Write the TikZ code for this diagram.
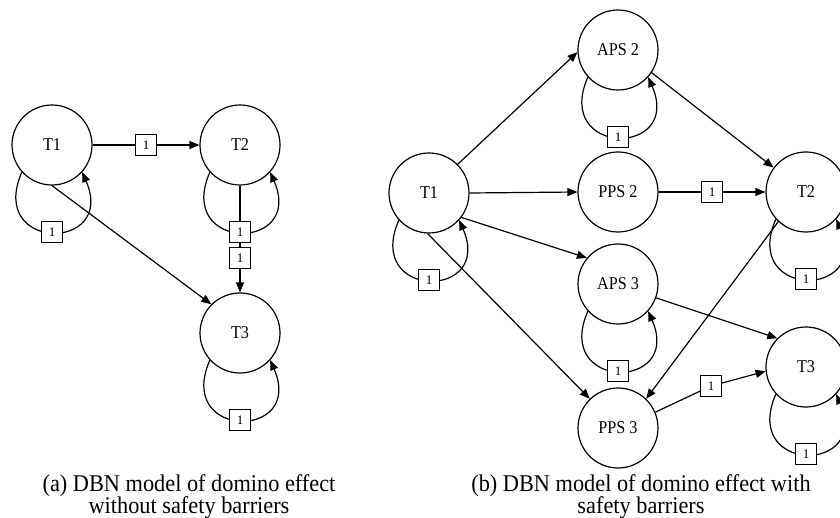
\documentclass[tikz,border=0pt]{standalone}
\usepackage{fontspec}
\setmainfont{Liberation Serif}
\newfontfamily\capfont[FakeStretch=0.93]{Liberation Serif}
\newfontfamily\lblfont[FakeStretch=0.9]{Liberation Serif}
\usetikzlibrary{arrows.meta}

% self-loop of a time-slice node, with its lag box
\newcommand\dbnloop[1]{%
  \draw[dbnarc] (#1.222) .. controls +(-35,80) and +(35,80) .. (#1.318)
    node[lagbox,pos=.5] (#1lag) {1};}

\begin{document}
\begin{tikzpicture}[x=1pt,y=-1pt,
  dbnstate/.style={circle,draw,fill=white,line width=1.2pt,minimum size=80pt,
    inner sep=0pt,font=\lblfont\fontsize{18}{20}\selectfont},
  lagbox/.style={rectangle,draw,fill=white,line width=1.2pt,minimum size=21pt,
    inner sep=0pt,font=\fontsize{13}{14}\selectfont},
  dbnarc/.style={line width=1.2pt,-{Triangle[length=10pt,width=8pt]}},
  captext/.style={font=\capfont\fontsize{24}{26}\selectfont,anchor=base,inner sep=0pt}]
\clip (0,0) rectangle (840,518);

% ---- (a) without safety barriers ----
\node[dbnstate] (T1a) at (52,145) {T1};
\node[dbnstate] (T2a) at (240,145) {T2};
\node[dbnstate] (T3a) at (240,333) {T3};

\draw[dbnarc] (T1a.east) -- node[lagbox] (e12) {1} (T2a.west);
\draw[dbnarc] (T2a.south) -- node[lagbox,pos=.676] (e23) {1} (T3a.north);
\draw[dbnarc] (T1a.south) -- (T3a.135);

\dbnloop{T1a}
\dbnloop{T2a}
\dbnloop{T3a}

% ---- (b) with safety barriers ----
\node[dbnstate] (T1b) at (429,193) {T1};
\node[dbnstate] (APS2) at (618,50) {APS 2};
\node[dbnstate] (PPS2) at (618,192) {PPS 2};
\node[dbnstate] (APS3) at (618,284) {APS 3};
\node[dbnstate] (PPS3) at (618,428) {PPS 3};
\node[dbnstate] (T2b) at (806,192) {T2};
\node[dbnstate] (T3b) at (806,367) {T3};

\draw[dbnarc] (T1b.45) -- (APS2.183);
\draw[dbnarc] (T1b.east) -- (PPS2.west);
\draw[dbnarc] (T1b.-37) -- (APS3.140);
\draw[dbnarc] (T1b.268) -- (PPS3.134);
\draw[dbnarc] (APS2.-34) -- (T2b.143);
\draw[dbnarc] (PPS2.east) -- node[lagbox] (ep2) {1} (T2b.west);
\draw[dbnarc] (APS3.-20) -- (T3b.135);
\draw[dbnarc] (T2b.227) -- (PPS3.46);
\node[lagbox] (ep3) at (711,386) {1};
\draw[dbnarc] (PPS3.23) -- (ep3) -- (T3b.186);

\dbnloop{T1b}
\dbnloop{APS2}
\dbnloop{APS3}
\dbnloop{T2b}
\dbnloop{T3b}

% ---- captions ----
\node[captext] (capa1) at (189,491) {(a) DBN model of domino effect};
\node[captext] (capa2) at (189,513) {without safety barriers};
\node[captext] (capb1) at (641,491) {(b) DBN model of domino effect with};
\node[captext] (capb2) at (641,513) {safety barriers};
\end{tikzpicture}
\end{document}
